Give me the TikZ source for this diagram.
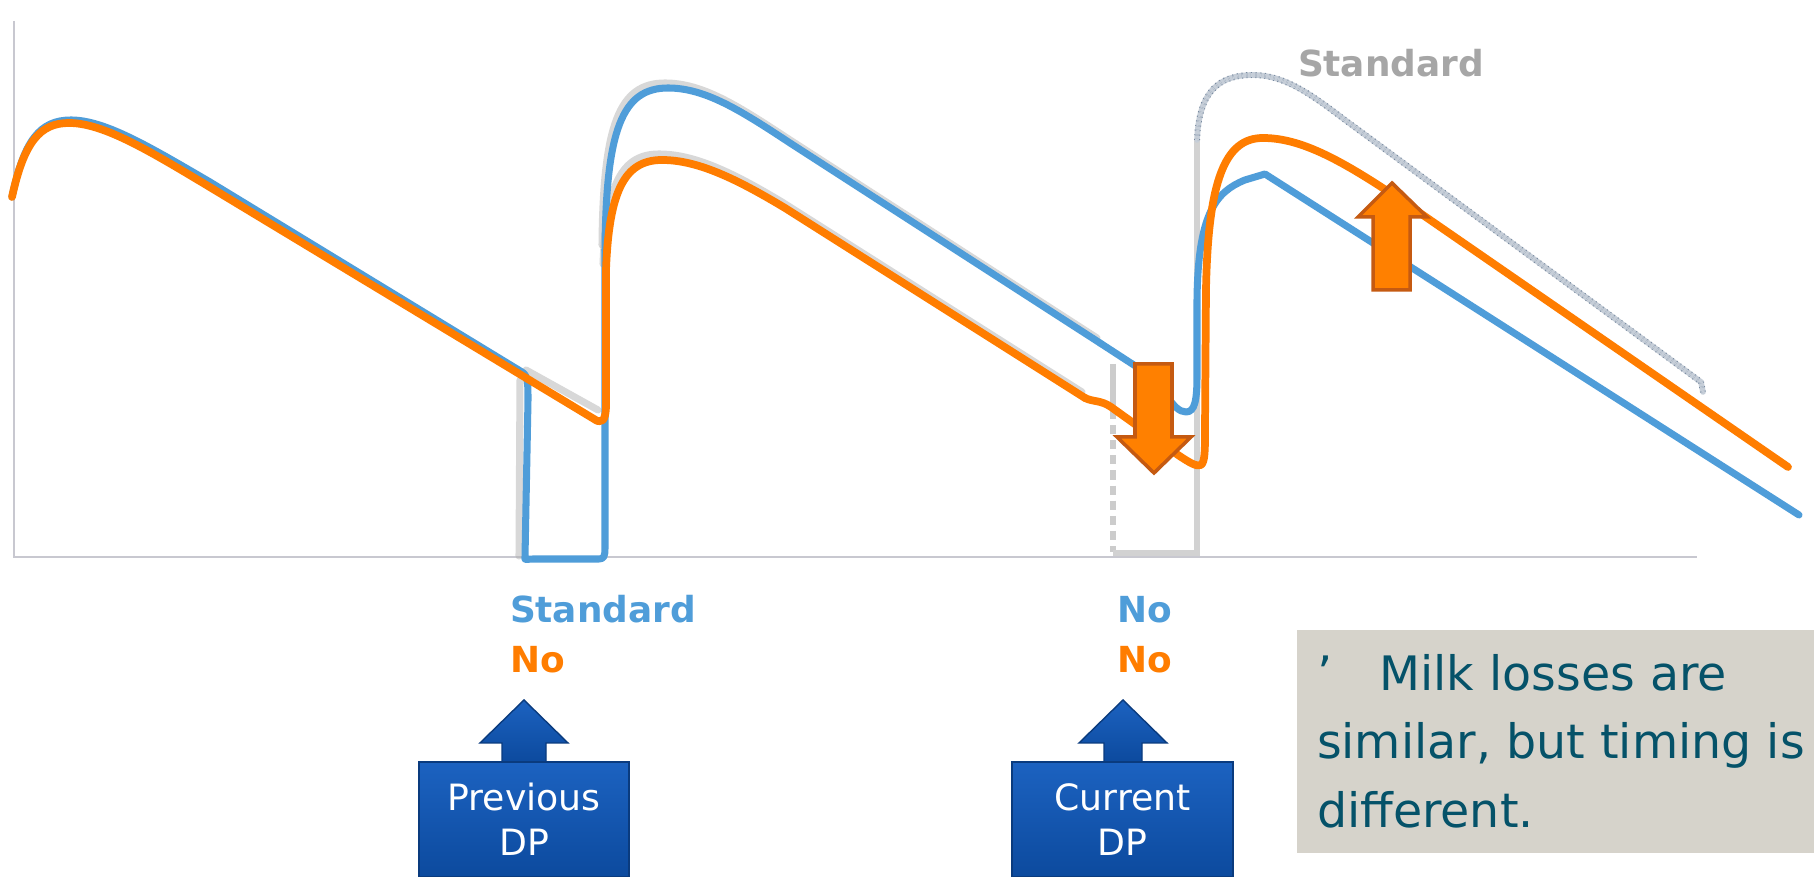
\documentclass[tikz,border=0pt]{standalone}
\usepackage{fontspec}
\setmainfont{DejaVu Sans}
\usetikzlibrary{positioning}

\definecolor{curveblue}{RGB}{79,157,217}
\definecolor{curveorange}{RGB}{255,125,0}
\definecolor{arroworange}{RGB}{255,128,0}
\definecolor{arrowedge}{RGB}{197,90,17}
\definecolor{dpblue}{RGB}{12,74,158}
\definecolor{dptop}{RGB}{28,98,192}
\definecolor{notegray}{RGB}{214,211,203}
\definecolor{noteteal}{RGB}{5,82,105}
\definecolor{stdgray}{RGB}{166,166,166}
\definecolor{axisgray}{RGB}{200,200,208}
\definecolor{stdcore}{RGB}{198,206,216}
\definecolor{stdedge}{RGB}{120,138,160}

% middle cycle of the two curves, reused for their shadows
\newcommand{\bluemid}{(605,250) .. controls (606,130) and (622,88) .. (668,88)
  .. controls (705,88) and (740,110) .. (790,143) -- (1100,343)}
\newcommand{\orangemid}{(606,270) .. controls (609,190) and (625,160) .. (662,160)
  .. controls (697,160) and (735,178) .. (785,208) -- (1085,398)}
% standard curve after the current dry period
\newcommand{\stdcurve}{(1197,140) .. controls (1199,92) and (1218,75) .. (1253,75)
  .. controls (1285,75) and (1312,95) .. (1345,120) -- (1701,382) -- (1703,392)}

\begin{document}
\begin{tikzpicture}[
    x=0.01cm, y=-0.01cm,
    every node/.style={inner sep=0pt, outer sep=0pt},
    blueline/.style={draw=curveblue, line width=2pt, line cap=round, line join=round},
    orangeline/.style={draw=curveorange, line width=2.2pt, line cap=round, line join=round},
    shadowline/.style={draw=gray!60, line width=2pt, line cap=round, opacity=0.5},
    stdbase/.style={draw=stdcore, line width=1.6pt, line cap=round},
    stdtex/.style={draw=stdedge, line width=0.3pt, densely dotted, double=stdcore, double distance=1.1pt},
    guide/.style={draw=gray!35, line width=1.6pt},
    axisline/.style={draw=axisgray, line width=0.6pt},
    bigarrow/.style={fill=arroworange, draw=arrowedge, line width=1pt, line join=miter},
    dpfill/.style={top color=dptop, bottom color=dpblue, draw=dpblue!80!black, line width=0.4pt},
    dpbox/.style={rectangle, dpfill, text=white, align=center, minimum height=1.15cm,
      font=\fontsize{10.3}{12.8}\selectfont},
    lbl/.style={font=\bfseries\fontsize{10.2}{12}\selectfont, anchor=base west},
    notetext/.style={text=noteteal, align=left, anchor=north west, font=\fontsize{13.5}{19.6}\selectfont}
  ]
    \useasboundingbox (0,0) rectangle (1814,877);
    \fill[white] (0,0) rectangle (1814,877);

    % Axes
    \draw[axisline] (14,21) -- (14,557) -- (1697,557);

    % Standard: gray guide lines round the current dry period
    \draw[guide, draw=gray!40] (1113,364) -- (1113,410);
    \draw[guide, draw=gray!40, dash pattern=on 2.6pt off 1.7pt] (1113,410) -- (1113,552);
    \draw[guide] (1113,553) -- (1197,553) -- (1197,140);
    \draw[stdbase] \stdcurve;
    \draw[stdtex] \stdcurve;

    % Shadows
    \draw[shadowline] (526,370) -- (598,410);
    \draw[shadowline] (520,380) -- (519,556);
    \draw[shadowline, shift={(-3,-5)}] \bluemid;
    \draw[shadowline, shift={(-3,-6)}] \orangemid;

    % Blue curve
    \draw[blueline] (12,197) .. controls (24,140) and (40,120) .. (71,120)
      .. controls (105,120) and (150,147) .. (210,182) -- (522,372)
      .. controls (528,375) and (528,385) .. (528,400) -- (525,557)
      .. controls (524,561) and (527,559) .. (533,559) -- (599,559)
      .. controls (604,559) and (605,556) .. (605,548) -- (605,250);
    \draw[blueline] \bluemid;
    \draw[blueline] (1100,343) -- (1140,369) .. controls (1165,386) and (1172,412) .. (1186,412)
      .. controls (1195,412) and (1197,400) .. (1197,375) -- (1197,300)
      .. controls (1198,215) and (1215,192) .. (1245,180) -- (1265,174) -- (1799,515);

    % Orange curve
    \draw[orangeline] (12,197) .. controls (24,142) and (40,123) .. (69,123)
      .. controls (103,123) and (148,150) .. (208,186) -- (594,419)
      .. controls (601,424) and (606,422) .. (606,405) -- (606,270);
    \draw[orangeline] \orangemid;
    \draw[orangeline] (1085,398) .. controls (1093,402) and (1101,400) .. (1111,407)
      -- (1178,455) .. controls (1190,463) and (1197,467) .. (1201,465)
      .. controls (1205,462) and (1205,450) .. (1205,430) -- (1206,290)
      .. controls (1208,180) and (1225,138) .. (1263,138)
      .. controls (1305,138) and (1350,165) .. (1420,213) -- (1788,467);

    % Orange shift arrows
    \draw[bigarrow] (1135,364) -- (1172,364) -- (1172,437) -- (1191,437) -- (1154,473)
      -- (1117,437) -- (1135,437) -- cycle;
    \draw[bigarrow] (1373,290) -- (1373,217) -- (1358,217) -- (1392,183) -- (1427,217)
      -- (1410,217) -- (1410,290) -- cycle;

    % Labels
    \node[lbl, text=stdgray] (stdlbl) at (1298,77) {Standard};
    \node[lbl, text=curveblue] (prevstd) at (510,623) {Standard};
    \node[lbl, text=curveorange, below=0.49cm of prevstd.base west, anchor=base west] (prevno) {No};
    \node[lbl, text=curveblue] (curno) at (1117,623) {No};
    \node[lbl, text=curveorange, below=0.49cm of curno.base west, anchor=base west] (curnoor) {No};

    % Dry period callouts
    \path[dpfill] (502,762) -- (502,743) -- (480,743) -- (524,700) -- (568,743)
      -- (546,743) -- (546,762) -- cycle;
    \node[dpbox, minimum width=2.10cm] (prevdp) at (524,819.5) {Previous\\DP};
    \path[dpfill] (1104,762) -- (1104,743) -- (1079,743) -- (1123,700) -- (1167,743)
      -- (1142,743) -- (1142,762) -- cycle;
    \node[dpbox, minimum width=2.21cm] (curdp) at (1122.5,819.5) {Current\\DP};

    % Note
    \fill[notegray] (1297,630) rectangle (1814,853);
    \node[notetext] (note) at (1317,654)
      {’\quad Milk losses are\\similar, but timing is\\different.};
\end{tikzpicture}
\end{document}
